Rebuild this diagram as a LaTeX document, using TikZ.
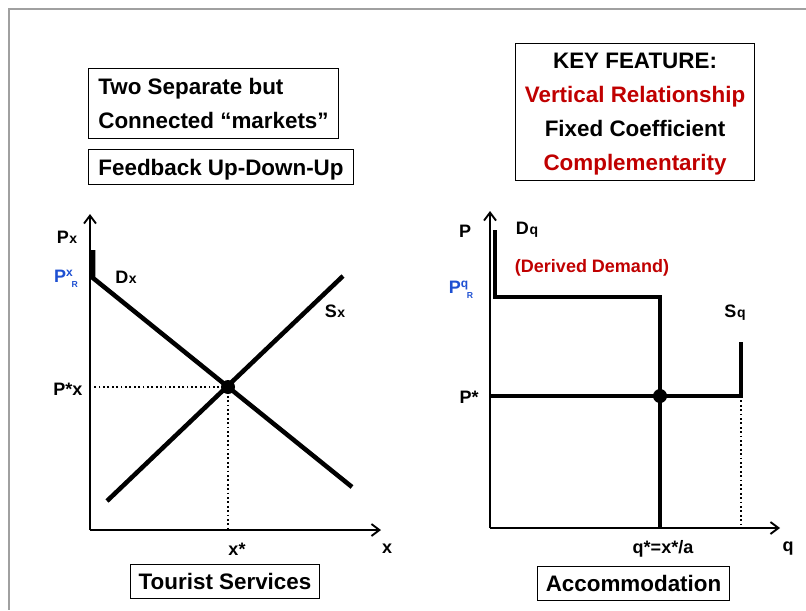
\documentclass[tikz,border=0pt]{standalone}
\usepackage{fontspec}
\setmainfont{Liberation Sans}
\usetikzlibrary{arrows.meta}
\definecolor{keyred}{RGB}{192,0,0}
\definecolor{labblue}{RGB}{30,80,210}
\definecolor{framegray}{RGB}{160,160,160}
\newcommand{\smallsub}[1]{\kern0.5pt{\fontsize{10.5}{11}\selectfont #1}}
\newcommand{\resv}[1]{\raisebox{4.5pt}{\fontsize{9}{10}\selectfont #1}\kern-1pt\raisebox{-3.5pt}{\fontsize{6.5}{7}\selectfont R}}
\begin{document}
\begin{tikzpicture}[x=0.75pt,y=-0.75pt,
  axis/.style={line width=1.4pt,-{Straight Barb[length=6pt,width=9pt,line width=1.4pt]}},
  curve/.style={line width=3.4pt},
  guide/.style={line width=1.3pt,dotted},
  infobox/.style={draw,line width=0.8pt,inner sep=0pt,text depth=0pt,font=\fontsize{16.8}{25.5}\selectfont\bfseries,align=left},
  lab/.style={font=\fontsize{13.5}{15}\selectfont\bfseries,inner sep=0pt},
  eqdot/.style={circle,fill=black,inner sep=0pt,minimum size=10.5pt}]
\useasboundingbox (0,0) rectangle (806,610);
% page frame
\draw[framegray,line width=1.5pt] (806,9) -- (9,9) -- (9,610);

% text boxes
\node[infobox,minimum width=250*0.75pt,minimum height=70*0.75pt,anchor=north west] (twomk) at (88,68)
  {Two Separate but\\Connected “markets”};
\node[infobox,minimum width=265*0.75pt,minimum height=35*0.75pt,anchor=north west] (fdbk) at (88,149)
  {Feedback Up-Down-Up};
\node[infobox,minimum width=239*0.75pt,minimum height=137*0.75pt,anchor=north west,align=center] (keyf) at (515,43)
  {KEY FEATURE:\\\textcolor{keyred}{Vertical Relationship}\\Fixed Coefficient\\\textcolor{keyred}{Complementarity}};
\node[infobox,minimum width=189*0.75pt,minimum height=34*0.75pt,anchor=north west] (tour) at (130,564)
  {Tourist Services};
\node[infobox,minimum width=192*0.75pt,minimum height=34*0.75pt,anchor=north west] (acco) at (537,566)
  {Accommodation};

% ---- left diagram: tourist services ----
\coordinate (lo) at (90,530);
\coordinate (ltop) at (90,214);
\coordinate (lright) at (381,530);
\draw[axis] (lo) -- (ltop);
\draw[axis] (lo) -- (lright);
\coordinate (dxa) at (93,250);
\coordinate (dxb) at (93,278);
\coordinate (dxc) at (352,487);
\draw[curve] (dxa) -- (dxb) -- (dxc);
\coordinate (sxa) at (107,501);
\coordinate (sxb) at (343,276);
\draw[curve] (sxa) -- (sxb);
\node[eqdot] (ex) at (228,387) {};
\coordinate (pxax) at (93,387);
\coordinate (xsax) at (228,530);
\draw[guide] (ex.center) -- (pxax);
\draw[guide] (ex.center) -- (xsax);
\node[lab] (lpx) at (67,237) {P\smallsub{x}};
\node[lab,labblue] (lpxr) at (66,279) {P\resv{x}};
\node[lab] (ldx) at (126,277) {D\smallsub{x}};
\node[lab] (lsx) at (335,311) {S\smallsub{x}};
\node[lab] (lpsx) at (68,389) {P*x};
\node[lab] (lxs) at (237,549) {x*};
\node[lab] (lx) at (387,549) {x};

% ---- right diagram: accommodation ----
\coordinate (ro) at (490,528);
\coordinate (rtop) at (490,211);
\coordinate (rright) at (780,528);
\draw[axis] (ro) -- (rtop);
\draw[axis] (ro) -- (rright);
\coordinate (dqa) at (495,230);
\coordinate (dqb) at (495,297);
\coordinate (dqc) at (660,297);
\coordinate (dqd) at (660,528);
\draw[curve] (dqa) -- (dqb) -- (dqc) -- (dqd);
\coordinate (sqa) at (490,396);
\coordinate (sqb) at (741,396);
\coordinate (sqc) at (741,342);
\draw[curve] (sqa) -- (sqb) -- (sqc);
\node[eqdot] (eq) at (660,396) {};
\coordinate (qcap) at (741,528);
\draw[guide] (sqb) -- (qcap);
\node[lab] (rp) at (465,231) {P};
\node[lab] (rdq) at (527,230) {D\smallsub{q}};
\node[lab,keyred] (rdd) at (592,268) {(Derived Demand)};
\node[lab,labblue] (rpqr) at (461,290) {P\resv{q}};
\node[lab] (rps) at (469,397) {P*};
\node[lab] (rsq) at (735,313) {S\smallsub{q}};
\node[lab] (rqs) at (663,549) {q*=x*/a};
\node[lab] (rq) at (788,549) {q};
\end{tikzpicture}
\end{document}
